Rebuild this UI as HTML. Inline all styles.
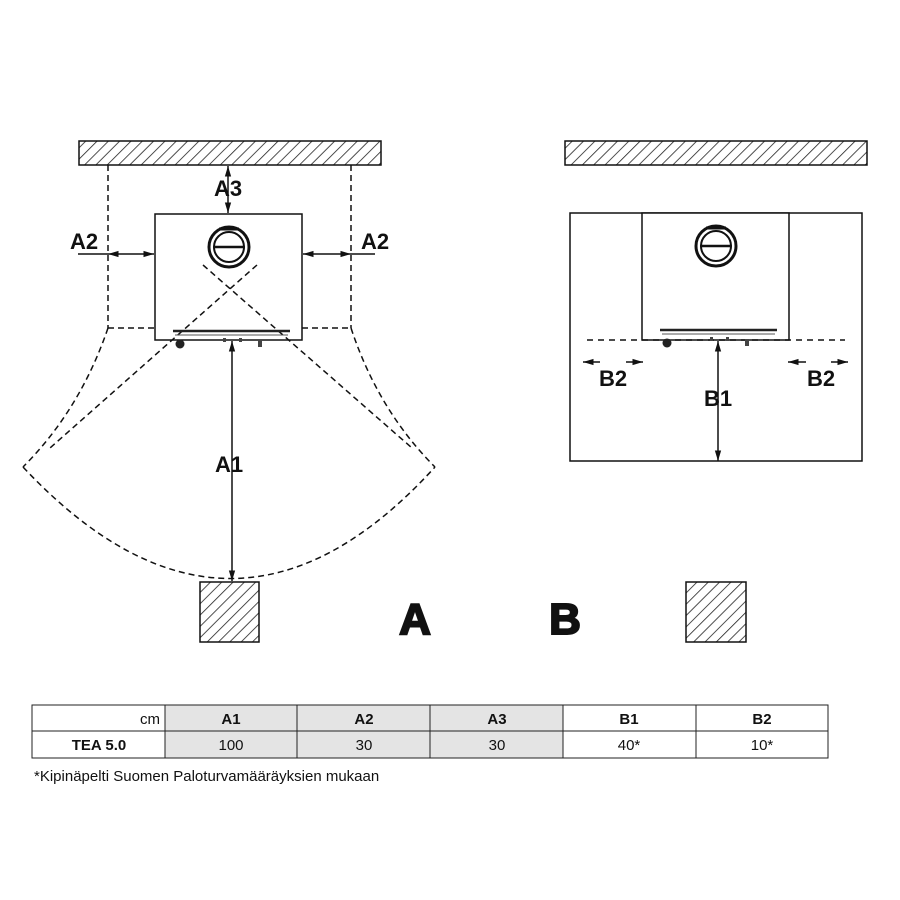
<!DOCTYPE html>
<html><head><meta charset="utf-8"><style>
body{margin:0;background:#fff}
svg{display:block}
text{font-family:"Liberation Sans",sans-serif}
</style></head><body>
<svg width="900" height="900" viewBox="0 0 900 900" xmlns="http://www.w3.org/2000/svg">
<defs>
<pattern id="h" width="8" height="8" patternUnits="userSpaceOnUse" patternTransform="rotate(45)">
<rect width="8" height="8" fill="#fff"/><line x1="0" y1="0" x2="0" y2="8" stroke="#222" stroke-width="1.6"/>
</pattern>
<marker id="ar" viewBox="0 0 10 10" refX="10" refY="5" markerWidth="7" markerHeight="7" orient="auto-start-reverse"><path d="M0,2 L10,5 L0,8z" fill="#111"/></marker>
<g id="stoveb">
<line x1="18" y1="117" x2="135" y2="117" stroke="#222" stroke-width="2.5"/>
<line x1="20" y1="121" x2="133" y2="121" stroke="#555" stroke-width="1"/>
<circle cx="25" cy="130" r="4.5" fill="#222"/>
<rect x="103" y="126" width="4" height="7" fill="#444"/>
<rect x="68" y="124" width="3" height="4" fill="#444"/><rect x="84" y="124" width="3" height="4" fill="#444"/>
<circle cx="74" cy="33" r="20" fill="none" stroke="#111" stroke-width="3"/>
<circle cx="74" cy="33" r="15" fill="none" stroke="#111" stroke-width="2"/>
<line x1="58" y1="33" x2="90" y2="33" stroke="#111" stroke-width="2.5"/>
<line x1="64" y1="15" x2="84" y2="15" stroke="#111" stroke-width="3"/>
</g>
</defs>
<g stroke="#111" fill="none" stroke-width="1.5">
<rect x="79" y="141" width="302" height="24" fill="url(#h)"/>
<rect x="155" y="214" width="147" height="126" fill="#fff"/>
<g stroke-dasharray="6,4">
<line x1="108" y1="165" x2="108" y2="328"/><line x1="351" y1="165" x2="351" y2="328"/>
<line x1="108" y1="328" x2="155" y2="328"/><line x1="302" y1="328" x2="351" y2="328"/>
<path d="M108,328 Q80,410 23,467"/><path d="M351,328 Q378,410 435,467"/>
<path d="M23,467 Q232,690 435,467"/>
<line x1="203" y1="265" x2="412" y2="448"/><line x1="257" y1="265" x2="50" y2="448"/>
</g>
<line x1="228" y1="166" x2="228" y2="213" marker-start="url(#ar)" marker-end="url(#ar)"/>
<line x1="78" y1="254" x2="108" y2="254"/><line x1="351" y1="254" x2="375" y2="254"/>
<line x1="108" y1="254" x2="154" y2="254" marker-start="url(#ar)" marker-end="url(#ar)"/>
<line x1="351" y1="254" x2="303" y2="254" marker-start="url(#ar)" marker-end="url(#ar)"/>
<line x1="232" y1="341" x2="232" y2="581" marker-start="url(#ar)" marker-end="url(#ar)"/>
<rect x="200" y="582" width="59" height="60" fill="url(#h)"/>
<rect x="565" y="141" width="302" height="24" fill="url(#h)"/>
<rect x="570" y="213" width="292" height="248"/>
<rect x="642" y="213" width="147" height="127" fill="#fff"/>
<line x1="587" y1="340" x2="845" y2="340" stroke-dasharray="6,5"/>
<line x1="718" y1="341" x2="718" y2="461" marker-start="url(#ar)" marker-end="url(#ar)"/>
<line x1="600" y1="362" x2="583" y2="362" marker-end="url(#ar)"/>
<line x1="626" y1="362" x2="643" y2="362" marker-end="url(#ar)"/>
<line x1="806" y1="362" x2="788" y2="362" marker-end="url(#ar)"/>
<line x1="831" y1="362" x2="848" y2="362" marker-end="url(#ar)"/>
<rect x="686" y="582" width="60" height="60" fill="url(#h)"/>
</g>
<use href="#stoveb" x="155" y="214"/>
<use href="#stoveb" x="642" y="213"/>
<g font-weight="bold" font-size="22" fill="#111" text-anchor="middle">
<text x="228" y="196">A3</text>
<text x="84" y="249">A2</text><text x="375" y="249">A2</text>
<text x="229" y="472">A1</text>
<text x="613" y="386">B2</text><text x="821" y="386">B2</text>
<text x="718" y="406">B1</text>
<text x="415" y="634" font-size="44" stroke="#111" stroke-width="2">A</text>
<text x="565" y="634" font-size="44" stroke="#111" stroke-width="2">B</text>
</g>
<rect x="165" y="705" width="398" height="53" fill="#e4e4e4"/>
<g stroke="#222" stroke-width="1" fill="none">
<rect x="32" y="705" width="796" height="53"/>
<line x1="32" y1="731" x2="828" y2="731"/>
<line x1="165" y1="705" x2="165" y2="758"/><line x1="297" y1="705" x2="297" y2="758"/>
<line x1="430" y1="705" x2="430" y2="758"/><line x1="563" y1="705" x2="563" y2="758"/>
<line x1="696" y1="705" x2="696" y2="758"/>
</g>
<g font-size="15" fill="#111" text-anchor="middle">
<text x="160" y="724" text-anchor="end">cm</text>
<text x="231" y="724" font-weight="bold">A1</text>
<text x="364" y="724" font-weight="bold">A2</text>
<text x="497" y="724" font-weight="bold">A3</text>
<text x="629" y="724" font-weight="bold">B1</text>
<text x="762" y="724" font-weight="bold">B2</text>
<text x="99" y="750" font-weight="bold">TEA 5.0</text>
<text x="231" y="750">100</text><text x="364" y="750">30</text><text x="497" y="750">30</text>
<text x="629" y="750">40*</text><text x="762" y="750">10*</text>
<text x="34" y="781" text-anchor="start">*Kipinäpelti Suomen Paloturvamääräyksien mukaan</text>
</g>
</svg>
</body></html>
